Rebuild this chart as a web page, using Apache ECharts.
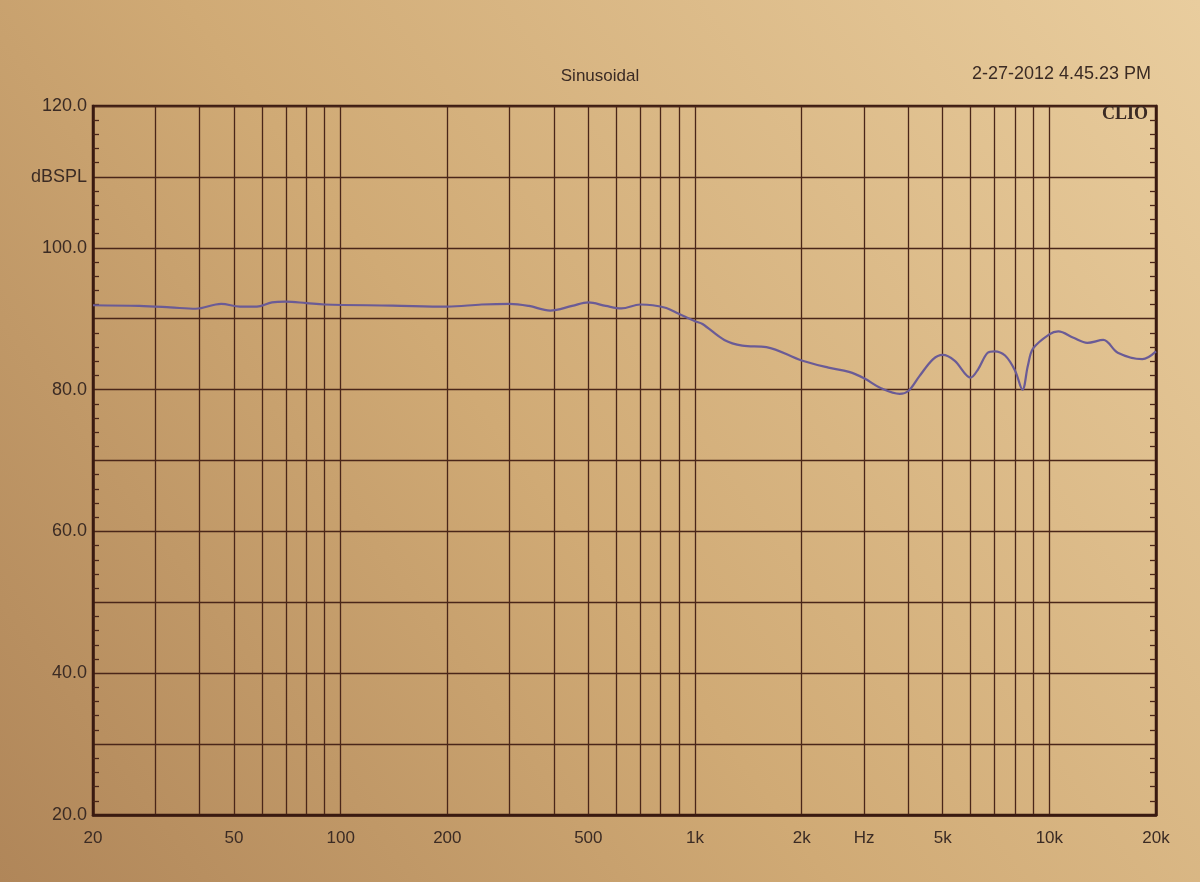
<!DOCTYPE html>
<html>
<head>
<meta charset="utf-8">
<title>Sinusoidal</title>
<script src="https://cdn.jsdelivr.net/npm/echarts@6/dist/echarts.min.js"></script>
<style>
  html, body { margin: 0; padding: 0; background: #cfa874; }
  #main { width: 1200px; height: 882px; }
</style>
</head>
<body>
<div id="main"></div>
<script>
var freqHz = [20, 27, 33, 39, 46, 52, 58, 64, 70, 80, 90, 140, 200, 250, 300, 340, 390, 450, 500, 560,
  620, 700, 760, 830, 900, 1000, 1050, 1210, 1360, 1590, 2000, 2380, 2720, 3000, 3350, 3780, 4000,
  4300, 4700, 5000, 5400, 6000, 6300, 6700, 7000, 7500, 8000, 8400, 8700, 9000, 10000, 10600, 11700,
  12800, 14200, 15600, 18300, 20000];
var splDb = [91.9, 91.8, 91.6, 91.4, 92.1, 91.7, 91.7, 92.3, 92.4, 92.2, 92.0, 91.85, 91.7, 92.0, 92.1,
  91.8, 91.15, 91.8, 92.3, 91.8, 91.45, 92.0, 91.9, 91.5, 90.7, 89.65, 89.25, 87.0, 86.2, 86.0, 84.1,
  83.1, 82.5, 81.6, 80.2, 79.4, 79.8, 81.9, 84.3, 84.9, 84.1, 81.7, 82.9, 85.2, 85.4, 84.8, 82.7, 80.0,
  83.4, 85.8, 87.8, 88.2, 87.3, 86.6, 87.0, 85.2, 84.3, 85.4];

// vertical grid lines (Hz)
var gridFreqs = [30, 40, 50, 60, 70, 80, 90, 100, 200, 300, 400, 500, 600, 700, 800, 900,
  1000, 2000, 3000, 4000, 5000, 6000, 7000, 8000, 9000, 10000];
// x labels
var xLabelFreqs = [20, 50, 100, 200, 500, 1000, 2000, 3000, 5000, 10000, 20000];
var xLabelTexts = ['20', '50', '100', '200', '500', '1k', '2k', 'Hz', '5k', '10k', '20k'];
// y labels
var yLabelValues = [20, 40, 60, 80, 100, 110, 120];
var yLabelTexts = ['20.0', '40.0', '60.0', '80.0', '100.0', 'dBSPL', '120.0'];

var ink = '#3b2b24';
var gridInk = '#4a2619';

var lg = function (f) { return Math.log10(f); };
var seriesData = freqHz.map(function (f, i) { return [lg(f), splDb[i]]; });

var chart = echarts.init(document.getElementById('main'));

chart.setOption({
  animation: false,
  backgroundColor: {
    type: 'linear', x: 0, y: 1, x2: 1, y2: 0,
    colorStops: [
      { offset: 0, color: '#b08659' },
      { offset: 0.45, color: '#d0aa75' },
      { offset: 1, color: '#e9cd9e' }
    ]
  },
  textStyle: { fontFamily: 'Liberation Sans, Arial, sans-serif' },
  title: [
    {
      text: 'Sinusoidal', left: 'center', top: 63,
      textStyle: { fontSize: 17, fontWeight: 'normal', color: ink }
    },
    {
      text: '2-27-2012 4.45.23 PM', right: 44, top: 60,
      textStyle: { fontSize: 18, fontWeight: 'normal', color: ink }
    },
    {
      text: 'CLIO', right: 47, top: 100,
      textStyle: { fontSize: 18, fontWeight: 'bold', fontFamily: 'Liberation Serif, serif', color: ink }
    }
  ],
  grid: {
    left: 93, right: 44, top: 106, bottom: 67,
    show: true, borderColor: '#3a1a10', borderWidth: 2.5, backgroundColor: 'transparent'
  },
  xAxis: {
    type: 'value',
    min: lg(20), max: lg(20000),
    axisLine: { show: true, lineStyle: { color: '#3a1a10', width: 2.5 } },
    axisTick: { show: false, customValues: gridFreqs.map(lg) },
    splitLine: { show: true, lineStyle: { color: gridInk, width: 1.3 } },
    axisLabel: {
      customValues: xLabelFreqs.map(lg),
      margin: 15, fontSize: 17, color: ink,
      formatter: function (v) {
        for (var i = 0; i < xLabelFreqs.length; i++) {
          if (Math.abs(lg(xLabelFreqs[i]) - v) < 1e-6) return xLabelTexts[i];
        }
        return '';
      }
    }
  },
  yAxis: [
    {
      type: 'value', min: 20, max: 120, interval: 10,
      axisLine: { show: true, lineStyle: { color: '#3a1a10', width: 2.5 } },
      axisTick: { show: false, inside: true },
      minorTick: { show: true, splitNumber: 5, length: 6, lineStyle: { color: gridInk, width: 1.3 } },
      splitLine: { show: true, lineStyle: { color: gridInk, width: 1.3 } },
      axisLabel: {
        margin: 6, fontSize: 18, color: ink,
        formatter: function (v) {
          var i = yLabelValues.indexOf(v);
          return i >= 0 ? yLabelTexts[i] : '';
        }
      }
    },
    {
      type: 'value', min: 20, max: 120, interval: 10, position: 'right',
      axisLine: { show: true, lineStyle: { color: '#3a1a10', width: 2.5 } },
      axisTick: { show: false, inside: true },
      minorTick: { show: true, splitNumber: 5, length: 6, lineStyle: { color: gridInk, width: 1.3 } },
      splitLine: { show: false },
      axisLabel: { show: false }
    }
  ],
  series: [
    {
      type: 'line',
      data: seriesData,
      showSymbol: false,
      smooth: 0.35,
      lineStyle: { color: '#6a5b96', width: 2.2 }
    }
  ]
});
</script>
</body>
</html>
